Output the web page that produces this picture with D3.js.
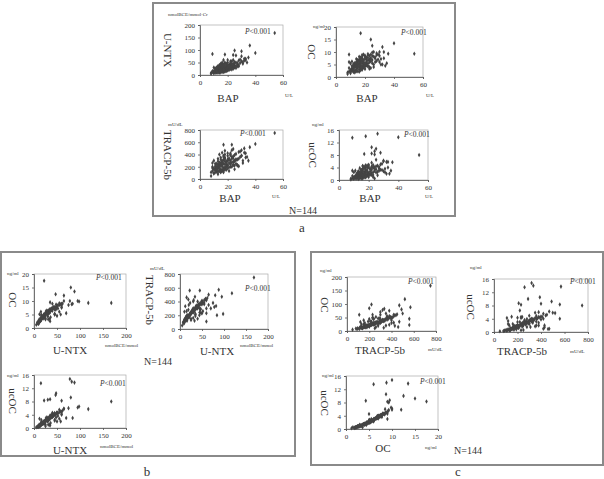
<!DOCTYPE html>
<html>
<head>
<meta charset="utf-8">
<script src="https://cdn.jsdelivr.net/npm/d3@7"></script>
<style>
  body { margin: 0; background: #fff; }
  text { font-family: "Liberation Serif", "DejaVu Serif", serif; fill: #333; }
</style>
</head>
<body>
<svg width="604" height="479"></svg>
<script>
// one value per patient (N = 144)
const bap = [8,9,10,10,11,11,12,12,12,13,13,13,14,14,14,15,15,15,16,16,16,16,17,17,17,18,18,18,18,19,19,20,20,20,21,21,22,22,23,23,24,24,25,26,27,28,29,30,31,33,
  8,9,10,10,11,11,12,12,13,13,13,14,14,14,14,15,15,15,16,16,16,16,17,17,17,18,18,18,19,19,19,20,20,21,21,22,22,23,23,24,25,25,26,27,28,29,31,32,34,35,
  10,11,12,12,13,13,14,15,15,16,17,17,18,18,19,19,20,20,21,22,23,24,26,27,30,33,23,
  54,40,36,26,18,9,17,9,22,25,24,28,24,30,25,32,22];
const ntx = [8,12,10,15,14,20,12,18,25,16,22,30,14,20,26,18,24,32,15,22,28,40,20,27,35,18,25,30,45,22,33,26,38,50,30,42,28,36,40,55,32,45,38,50,42,58,48,55,45,60,
  5,14,7,30,9,26,10,21,12,35,16,11,40,23,10,33,20,45,12,19,50,33,17,23,60,21,15,36,19,27,40,22,31,25,35,24,44,30,34,38,30,52,36,48,40,62,52,58,50,70,
  13,24,15,30,9,34,29,10,38,45,12,42,14,50,16,46,18,60,20,55,22,25,28,35,75,65,45,
  168,88,118,78,82,15,22,84,48,47,80,35,60,95,98,65,30];
const tracp = [110,130,95,160,140,180,120,200,150,170,210,240,130,190,230,160,220,260,150,200,280,300,180,250,310,170,240,290,350,210,270,230,320,380,260,340,250,300,330,360,280,370,300,410,320,440,360,380,300,420,
  50,180,90,300,110,250,140,170,330,190,120,140,400,210,250,120,350,240,130,430,230,270,160,380,110,190,460,330,280,240,150,220,420,130,310,240,200,270,470,340,160,390,310,230,330,450,260,430,360,300,
  170,210,160,250,80,290,270,110,320,240,140,360,150,400,200,280,170,300,190,420,200,230,250,220,380,350,560,
  750,570,520,320,335,260,560,200,390,290,490,210,230,470,220,500,400];
const oc = [1.8,2.2,1.5,2.8,3.0,3.5,2.5,4.0,3.2,4.5,3.8,5.0,2.8,4.2,5.5,3.6,4.8,6.0,3.0,5.2,6.5,7.0,4.4,5.8,6.8,4.0,5.5,6.2,7.5,5.0,6.4,5.6,7.2,8.0,6.0,7.8,5.4,6.6,7.0,8.5,6.2,7.6,6.8,8.2,7.4,8.8,7.0,6.0,5.0,7.5,
  1.2,3.6,2.0,5.4,2.4,6.2,2.0,4.6,5.1,2.5,4.9,3.1,7.2,4.6,2.3,6.8,4.3,5.3,2.1,4.0,8.1,6.1,3.5,4.9,7.8,4.5,2.9,6.7,3.9,5.7,9.0,4.8,3.2,5.2,6.9,4.4,7.7,5.9,3.3,7.1,5.5,8.4,4.0,7.9,6.4,9.0,7.2,5.0,4.5,5.5,
  2.6,4.4,3.0,5.2,1.8,5.6,6.0,2.3,6.6,5.0,2.7,7.4,3.4,8.0,3.8,6.8,4.2,8.6,4.6,9.2,4.0,3.6,5.0,6.0,8.5,10.0,7.0,
  9.3,13.5,9.3,10.0,8.8,6.0,17.5,9.0,8.7,12.5,15.0,9.5,9.0,10.0,9.8,12.0,4.3];
const ucoc = [0.4,0.6,0.5,0.9,1.1,1.3,0.8,1.6,1.0,1.8,1.4,2.2,0.7,1.5,2.5,1.2,2.0,2.8,0.9,2.1,3.2,3.5,1.7,2.6,3.8,1.3,2.4,3.0,4.2,1.9,3.1,2.3,4.0,4.5,2.7,3.6,2.2,3.3,3.9,4.8,2.9,4.1,3.4,4.6,3.7,5.0,3.2,2.8,2.5,4.0,
  0.2,1.3,0.4,2.5,0.6,3.0,0.5,1.9,2.8,0.8,2.4,1.0,3.8,1.8,0.6,3.3,1.7,2.2,0.5,1.4,4.5,2.7,1.2,2.0,4.2,1.8,0.9,3.4,1.5,2.6,4.6,1.8,1.0,2.0,3.5,1.6,4.3,2.5,1.0,3.8,2.4,4.4,1.5,4.2,3.3,5.2,3.6,2.0,2.0,3.0,
  0.7,1.2,1.3,2.0,0.3,2.6,2.3,0.5,3.2,4.5,0.9,4.0,1.0,4.7,1.4,3.9,1.5,4.9,1.7,5.5,1.6,0.5,2.6,3.0,6.0,5.8,4.0,
  8.0,13.7,5.7,14.8,14.0,13.5,8.3,3.0,10.5,10.0,9.2,8.7,8.2,6.2,6.5,5.8,8.5];

const bapTicks = [0, 20, 40, 60];
const ntxTicks = [0, 50, 100, 150, 200];
const tracpTicks = [0, 200, 400, 600, 800];
const ocTicks = [0, 5, 10, 15, 20];
const ucocTicks = [0, 4, 8, 12, 16];

const vars = {
  bap: { v: bap, ticks: bapTicks },
  ntx: { v: ntx, ticks: ntxTicks },
  tracp: { v: tracp, ticks: tracpTicks },
  oc: { v: oc, ticks: ocTicks },
  ucoc: { v: ucoc, ticks: ucocTicks }
};

// panel layout: plot-area box, variables, labels
const plots = [
  { x: [200, 283], y: [25, 75], xv: "bap", yv: "ntx", ytitle: "U-NTX", yunit: "nmolBCE/mmol·Cr", xtitle: "BAP", xunit: "U/L",
    yt: [168, 50], yu: [168, 16], xt: [228, 102], xu: [285, 97], p: [245, 34] },
  { x: [336, 423], y: [27, 77], xv: "bap", yv: "oc", ytitle: "OC", yunit: "ng/ml", xtitle: "BAP", xunit: "U/L",
    yt: [312, 52], yu: [313, 28], xt: [367, 102], xu: [426, 97], p: [401, 35] },
  { x: [200, 283], y: [130, 179], xv: "bap", yv: "tracp", ytitle: "TRACP-5b", yunit: "mU/dL", xtitle: "BAP", xunit: "U/L",
    yt: [168, 155], yu: [168, 126], xt: [230, 202], xu: [272, 198], p: [240, 136] },
  { x: [339, 428], y: [130, 180], xv: "bap", yv: "ucoc", ytitle: "ucOC", yunit: "ng/ml", xtitle: "BAP", xunit: "U/L",
    yt: [313, 155], yu: [312, 126], xt: [370, 202], xu: [425, 198], p: [404, 137] },
  { x: [34, 126], y: [274, 328], xv: "ntx", yv: "oc", ytitle: "OC", yunit: "ng/ml", xtitle: "U-NTX", xunit: "nmolBCE/mmol",
    yt: [13, 300], yu: [7, 275], xt: [70, 354], xu: [105, 347], p: [96, 280] },
  { x: [180, 268], y: [274, 329], xv: "ntx", yv: "tracp", ytitle: "TRACP-5b", yunit: "mU/dL", xtitle: "U-NTX", xunit: "nmolBCE/mmol",
    yt: [150, 300], yu: [150, 270], xt: [217, 355], xu: [240, 347], p: [245, 291] },
  { x: [34, 126], y: [375, 428], xv: "ntx", yv: "ucoc", ytitle: "ucOC", yunit: "ng/ml", xtitle: "U-NTX", xunit: "nmolBCE/mmol",
    yt: [13, 401], yu: [7, 377], xt: [70, 454], xu: [100, 448], p: [100, 386] },
  { x: [347, 436], y: [277, 331], xv: "tracp", yv: "ntx", ytitle: "OC", yunit: "ng/ml", xtitle: "TRACP-5b", xunit: "mU/dL",
    yt: [325, 305], yu: [320, 272], xt: [380, 354], xu: [428, 351], p: [408, 284] },
  { x: [494, 588], y: [279, 332], xv: "tracp", yv: "ucoc", ytitle: "ucOC", yunit: "ng/ml", xtitle: "TRACP-5b", xunit: "mU/dL",
    yt: [471, 307], yu: [470, 269], xt: [522, 355], xu: [570, 353], p: [570, 284] },
  { x: [346, 438], y: [376, 429], xv: "oc", yv: "ucoc", ytitle: "ucOC", yunit: "ng/ml", xtitle: "OC", xunit: "ng/ml",
    yt: [325, 403], yu: [322, 377], xt: [383, 452], xu: [425, 449], p: [420, 384] }
];

const boxes = [
  { x: 153, y: 3, w: 302, h: 213, label: "a", lx: 302, ly: 232, n: [303, 214] },
  { x: 1, y: 252, w: 294, h: 204, label: "b", lx: 147, ly: 476, n: [158, 365] },
  { x: 311, y: 252, w: 292, h: 213, label: "c", lx: 458, ly: 476, n: [468, 454] }
];

const svg = d3.select("svg");

svg.selectAll("rect.box")
  .data(boxes)
  .enter().append("rect")
  .attr("class", "box")
  .attr("x", d => d.x)
  .attr("y", d => d.y)
  .attr("width", d => d.w)
  .attr("height", d => d.h)
  .attr("fill", "none")
  .attr("stroke", "#8a8a8a")
  .attr("stroke-width", 2);

svg.selectAll("text.plabel")
  .data(boxes)
  .enter().append("text")
  .attr("x", d => d.lx)
  .attr("y", d => d.ly)
  .attr("text-anchor", "middle")
  .attr("font-size", 13)
  .text(d => d.label);

svg.selectAll("text.n")
  .data(boxes)
  .enter().append("text")
  .attr("x", d => d.n[0])
  .attr("y", d => d.n[1])
  .attr("text-anchor", "middle")
  .attr("font-size", 10)
  .text("N=144");

const diamond = d3.symbol().type(d3.symbolDiamond).size(6);

plots.forEach(p => {
  const X = vars[p.xv], Y = vars[p.yv];
  const x = d3.scaleLinear().domain(d3.extent(X.ticks)).range(p.x);
  const y = d3.scaleLinear().domain(d3.extent(Y.ticks)).range([p.y[1], p.y[0]]);
  const g = svg.append("g");

  g.append("rect")
    .attr("x", p.x[0])
    .attr("y", p.y[0])
    .attr("width", p.x[1] - p.x[0])
    .attr("height", p.y[1] - p.y[0])
    .attr("fill", "none")
    .attr("stroke", "#aaa")
    .attr("stroke-width", 0.7);

  const xa = g.append("g")
    .attr("transform", `translate(0,${p.y[1]})`)
    .call(d3.axisBottom(x).tickValues(X.ticks).tickSize(2).tickPadding(3));
  const ya = g.append("g")
    .attr("transform", `translate(${p.x[0]},0)`)
    .call(d3.axisLeft(y).tickValues(Y.ticks).tickSize(2).tickPadding(3));
  [xa, ya].forEach(a => {
    a.selectAll("path, line").attr("stroke", "#555").attr("stroke-width", 0.8);
    a.selectAll("text").attr("font-size", 7).attr("font-family", "Liberation Serif").attr("fill", "#444");
  });

  g.selectAll("path.pt")
    .data(X.v.map((v, i) => [v, Y.v[i]]))
    .enter().append("path")
    .attr("class", "pt")
    .attr("d", diamond)
    .attr("transform", d => `translate(${x(d[0])},${y(d[1])})`)
    .attr("fill", "#444");

  g.append("text")
    .attr("transform", `translate(${p.yt[0]},${p.yt[1]}) rotate(90)`)
    .attr("text-anchor", "middle")
    .attr("dy", "0.35em")
    .attr("font-size", 11)
    .text(p.ytitle);

  g.append("text")
    .attr("x", p.yu[0])
    .attr("y", p.yu[1])
    .attr("font-size", 5)
    .attr("fill", "#555")
    .text(p.yunit);

  g.append("text")
    .attr("x", p.xt[0])
    .attr("y", p.xt[1])
    .attr("text-anchor", "middle")
    .attr("font-size", 11)
    .text(p.xtitle);

  g.append("text")
    .attr("x", p.xu[0])
    .attr("y", p.xu[1])
    .attr("font-size", 5)
    .attr("fill", "#555")
    .text(p.xunit);

  const pt = g.append("text")
    .attr("x", p.p[0])
    .attr("y", p.p[1])
    .attr("font-size", 7.5);
  pt.append("tspan").attr("font-style", "italic").text("P");
  pt.append("tspan").text("<0.001");
});
</script>
</body>
</html>
